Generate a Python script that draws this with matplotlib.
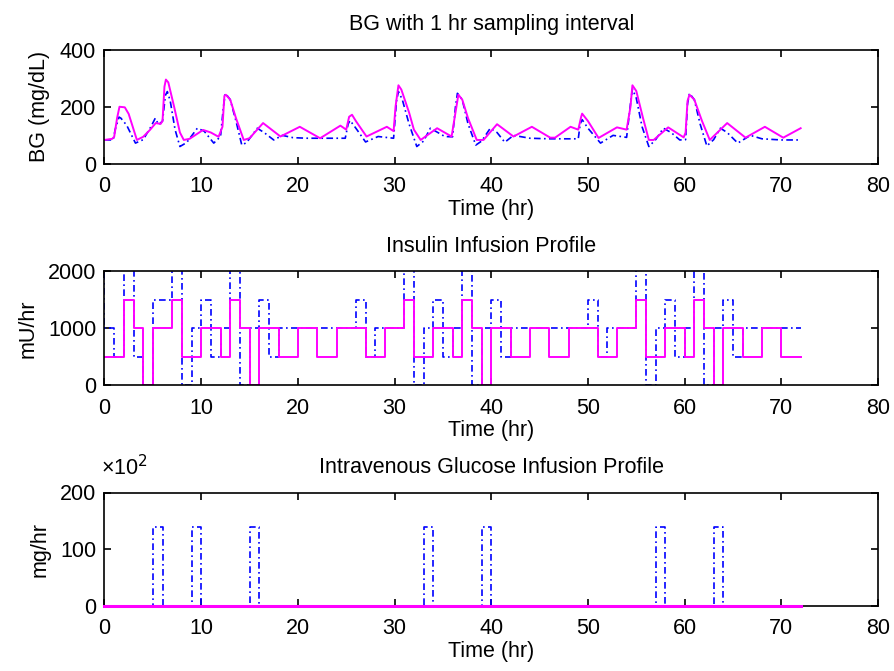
import matplotlib
matplotlib.use('Agg')
import matplotlib.pyplot as plt

plt.rcParams['font.family'] = ['Liberation Sans', 'DejaVu Sans']
plt.rcParams['font.size'] = 15.5

# BG (mg/dL)
bg_fine_t = [0, 0.9, 1.1, 1.5, 1.7, 2.3, 3.2, 4.0, 4.8, 5.25, 5.6, 6.0, 6.3, 6.5, 6.8, 7.3, 7.8,
             8.5, 9.6, 10.3, 11.3, 12.0, 12.3, 12.5, 13.0, 13.6, 14.2, 14.7, 15.8, 16.5, 17.5, 18.4,
             19.5, 21, 23, 24.9, 25.2, 25.4, 26.0, 27.0, 28.3, 29.9, 30.2, 30.4, 30.8, 31.5, 32.3,
             33.0, 33.7, 35.2, 36.0, 36.3, 36.5, 37.0, 37.6, 38.4, 39.0, 39.9, 40.6, 41.4, 42.3,
             44, 46, 48, 49.0, 49.2, 49.4, 50.0, 51.3, 52.6, 54.0, 54.4, 54.6, 55.0, 55.6, 56.3,
             57.0, 57.8, 58.6, 59.5, 60.1, 60.3, 60.5, 61.0, 61.6, 62.3, 63.0, 63.7, 64.4, 65.5,
             66.8, 68, 70, 72]
bg_fine = [84, 84, 120, 164, 160, 135, 73, 85, 130, 160, 137, 150, 240, 253, 220, 120, 61,
           75, 125, 115, 73, 96, 200, 247, 225, 150, 66, 75, 125, 110, 84, 100,
           92, 90, 90, 90, 140, 152, 125, 77, 96, 90, 220, 253, 225, 140, 61,
           80, 125, 96, 95, 200, 247, 225, 140, 66, 80, 125, 110, 76, 100,
           90, 88, 88, 88, 140, 155, 125, 73, 100, 93, 210, 262, 230, 130, 61,
           85, 125, 110, 84, 85, 210, 247, 225, 140, 63, 85, 125, 110, 73,
           100, 88, 84, 84]

bg_1hr_t = [0, 0.8, 1.0, 1.3, 1.55, 2.1, 2.5, 3.35, 4.0, 4.7, 5.3, 5.8, 6.0, 6.2, 6.35, 6.6, 7.2,
            7.8, 8.2, 8.8, 10.2, 11.0, 11.8, 12.2, 12.4, 12.55, 13.0, 13.6, 14.4, 15.0, 16.4, 18.2,
            20.2, 22.3, 24.4, 25.0, 25.3, 25.6, 26.0, 27.1, 29.2, 29.9, 30.1, 30.4, 30.7, 31.5,
            32.0, 32.7, 34.4, 35.9, 36.3, 36.6, 37.0, 37.6, 38.5, 39.2, 40.6, 42.3, 44.2, 46.1,
            46.6, 48.2, 49.0, 49.3, 49.4, 50.0, 51.1, 53.0, 54.0, 54.4, 54.6, 55.0, 55.7, 56.3,
            56.8, 58.3, 59.9, 60.1, 60.3, 60.5, 61.0, 61.8, 62.6, 64.4, 66.3, 68.3, 70.2, 72.0]
bg_1hr = [84, 88, 95, 160, 200, 198, 175, 84, 95, 119, 143, 140, 150, 270, 295, 285, 200,
          110, 84, 88, 119, 110, 95, 130, 238, 242, 225, 160, 84, 90, 143, 96,
          130, 90, 134, 120, 165, 172, 150, 96, 130, 115, 200, 275, 260, 180,
          120, 84, 125, 96, 180, 242, 225, 160, 84, 84, 139, 96, 130, 92,
          92, 130, 120, 165, 176, 150, 91, 128, 120, 200, 275, 255, 160, 84,
          84, 128, 93, 110, 220, 242, 225, 150, 84, 143, 92, 130, 92, 125]

# insulin infusion (mU/hr), step changes; values above 2000 run off the axis
ins_blue_t = [0, 0, 1, 2, 3, 4, 5, 7, 8, 9, 10, 11, 12, 13, 14, 15, 16, 17, 18, 26, 27, 28,
              31, 32, 33, 34, 35, 36, 37, 38, 39, 40, 41, 42, 50, 51, 52, 55, 56, 57, 58, 59,
              60, 61, 62, 63, 64, 65, 66, 72]
ins_blue = [2500, 1000, 500, 2500, 500, 0, 1500, 2500, 0, 1000, 1500, 500, 1000, 2500, 0, 1000,
            1500, 500, 1000, 1500, 500, 1000, 2500, 0, 1000, 1500, 500, 1000, 2500, 0, 1000,
            1500, 500, 1000, 1500, 500, 1000, 2500, 0, 1000, 1500, 500, 1000, 2500, 0, 1000,
            1500, 500, 1000, 1000]
ins_mag_t = [0, 2, 3, 4, 5, 7, 8, 10, 12, 13, 14, 15, 16, 18, 20, 22, 24, 27, 29, 31, 32, 34,
             36, 37, 38, 39, 40, 42, 44, 46, 48, 51, 53, 55, 56, 58, 60, 61, 62, 63, 64, 66,
             68, 70, 72]
ins_mag = [500, 1500, 1000, 0, 1000, 1500, 500, 1000, 500, 1500, 1000, 0, 1000, 500, 1000, 500,
           1000, 500, 1000, 1500, 500, 1000, 500, 1500, 1000, 0, 1000, 500, 1000, 500, 1000,
           500, 1000, 1500, 500, 1000, 500, 1500, 1000, 0, 1000, 500, 1000, 500, 500]

# glucose infusion (x10^2 mg/hr)
glu_blue_t = [0, 5, 6, 9, 10, 15, 16, 33, 34, 39, 40, 57, 58, 63, 64, 72]
glu_blue = [0, 140, 0, 140, 0, 140, 0, 140, 0, 140, 0, 140, 0, 140, 0, 0]
glu_mag_t = [0, 72]
glu_mag = [0, 0]

BLUE = (0, 0, 1)
MAG = (1, 0, 1)
DD = (4, 2, 1, 2)

fig = plt.figure(figsize=(8.95, 6.71), dpi=100)
W, H = 895, 671

def make_ax(top, bottom):
    return fig.add_axes([104.5 / W, 1 - bottom / H, 773.5 / W, (bottom - top) / H])

def style(ax, ylim, yticks, ylabel, title):
    ax.set_xlim(0, 80)
    ax.set_xticks(range(0, 81, 10))
    ax.set_ylim(*ylim)
    ax.set_yticks(yticks)
    ax.tick_params(direction='in', top=True, right=True, length=5, width=1.2)
    ax.tick_params(axis='x', pad=9)
    ax.tick_params(axis='y', pad=6)
    for s in ax.spines.values():
        s.set_linewidth(1.2)
    ax.set_xlabel('Time (hr)', labelpad=1)
    ax.set_ylabel(ylabel, labelpad=7)
    ax.set_title(title, fontsize=15.5, pad=14)

ax1 = make_ax(49.5, 164)
ax1.plot(bg_fine_t, bg_fine, color=BLUE, linestyle='-.', dashes=DD, lw=1.2)
ax1.plot(bg_1hr_t, bg_1hr, color=MAG, lw=1.4)
style(ax1, (0, 400), [0, 200, 400], 'BG (mg/dL)', 'BG with 1 hr sampling interval')

ax2 = make_ax(271.5, 385)
ax2.step(ins_blue_t, ins_blue, where='post', color=BLUE, linestyle='-.', dashes=DD, lw=1.2)
ax2.step(ins_mag_t, ins_mag, where='post', color=MAG, lw=1.4)
style(ax2, (0, 2000), [0, 1000, 2000], 'mU/hr', 'Insulin Infusion Profile')

ax3 = make_ax(492.5, 606)
ax3.step(glu_blue_t, glu_blue, where='post', color=BLUE, linestyle='-.', dashes=DD, lw=1.2)
ax3.step(glu_mag_t, glu_mag, where='post', color=MAG, lw=2.2, clip_on=False, zorder=3)
style(ax3, (0, 200), [0, 100, 200], 'mg/hr', 'Intravenous Glucose Infusion Profile')
ax3.text(-0.004, 1.155, '×10$^{2}$', transform=ax3.transAxes, ha='left', va='baseline',
         fontsize=15.5, math_fontfamily='dejavusans')

fig.savefig('out.png', dpi=100)
